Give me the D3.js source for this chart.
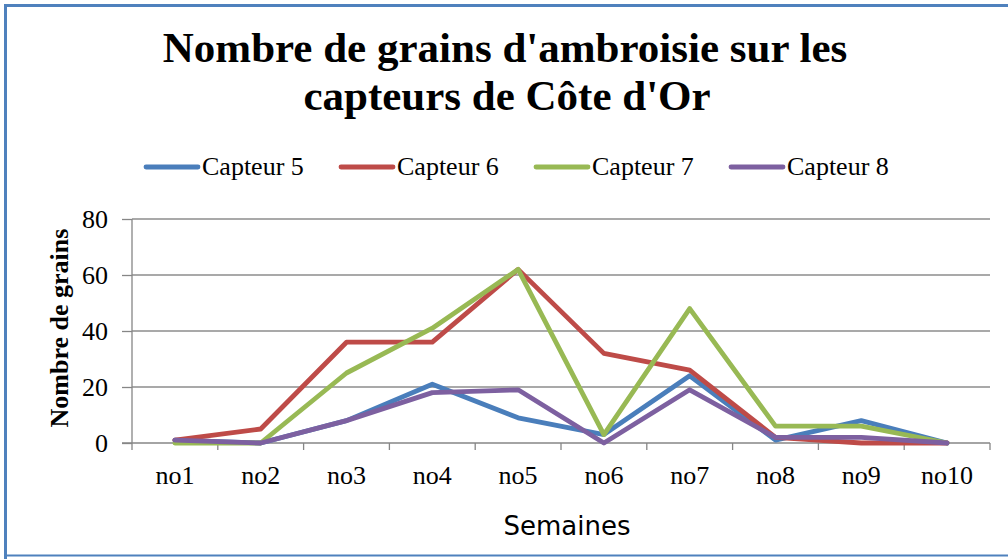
<!DOCTYPE html>
<html>
<head>
<meta charset="utf-8">
<script src="https://cdn.jsdelivr.net/npm/d3@7"></script>
<style>
  body { margin: 0; background: #fff; }
  svg { display: block; }
  .serif { font-family: "Liberation Serif", "Times New Roman", Times, serif; }
</style>
</head>
<body>
<svg width="1008" height="559"></svg>
<script>
// data
var weeks = ["no1", "no2", "no3", "no4", "no5", "no6", "no7", "no8", "no9", "no10"];
var capteur5 = [1, 0, 8, 21, 9, 3, 24, 1, 8, 0];
var capteur6 = [1, 5, 36, 36, 62, 32, 26, 2, 0, 0];
var capteur7 = [0, 0, 25, 41, 62, 3, 48, 6, 6, 0];
var capteur8 = [1, 0, 8, 18, 19, 0, 19, 2, 2, 0];
var seriesNames = ["Capteur 5", "Capteur 6", "Capteur 7", "Capteur 8"];
var yTicks = [0, 20, 40, 60, 80];

var colors = ["#4A7EBB", "#BE4B48", "#98B954", "#7D60A0"];
var series = [capteur5, capteur6, capteur7, capteur8];

var svg = d3.select("svg");

// frame (right edge is cut off in the original)
svg.append("path")
  .attr("d", "M5.5,560 L5.5,5.5 L1010,5.5")
  .attr("fill", "none")
  .attr("stroke", "#4F81BD")
  .attr("stroke-width", 3);
svg.append("line")
  .attr("x1", 5).attr("x2", 1008).attr("y1", 555.5).attr("y2", 555.5)
  .attr("stroke", "#4F81BD").attr("stroke-width", 2);

var plotL = 132, plotR = 990, plotT = 219, plotB = 443;

var x = d3.scaleBand().domain(weeks).range([plotL, plotR]);
var y = d3.scaleLinear().domain([0, 80]).range([plotB, plotT]);

// title
var title = svg.append("text")
  .attr("class", "serif")
  .attr("text-anchor", "middle")
  .attr("font-weight", "bold")
  .attr("font-size", 43)
  .attr("fill", "#000");
title.append("tspan").attr("x", 505).attr("y", 62).text("Nombre de grains d'ambroisie sur les");
title.append("tspan").attr("x", 507).attr("y", 110).text("capteurs de Côte d'Or");

// gridlines
svg.append("g").selectAll("line")
  .data(yTicks.slice(1))
  .join("line")
  .attr("x1", plotL).attr("x2", plotR)
  .attr("y1", d => y(d)).attr("y2", d => y(d))
  .attr("stroke", "#8c8c8c").attr("stroke-width", 1.3);

// y axis
var yAxis = svg.append("g")
  .attr("transform", "translate(" + plotL + ",0)")
  .call(d3.axisLeft(y).tickValues(yTicks).tickSize(10).tickPadding(14));
yAxis.attr("font-family", null).attr("font-size", null);
yAxis.select(".domain").attr("stroke", "#868686").attr("stroke-width", 1.3).attr("d", "M0," + plotT + "V" + plotB);
yAxis.selectAll(".tick line").attr("stroke", "#868686").attr("stroke-width", 1.3);
yAxis.selectAll("text")
  .attr("class", "serif").attr("font-size", 26).attr("fill", "#000")
  .attr("dy", "0.34em");

// x axis, ticks at band edges
var xAxis = svg.append("g")
  .attr("transform", "translate(0," + plotB + ")");
xAxis.append("line")
  .attr("x1", plotL - 10).attr("x2", plotR)
  .attr("stroke", "#868686").attr("stroke-width", 1.3);
xAxis.selectAll(".edge")
  .data(weeks.concat(["end"]))
  .join("line")
  .attr("class", "edge")
  .attr("x1", (d, i) => plotL + i * x.step())
  .attr("x2", (d, i) => plotL + i * x.step())
  .attr("y1", 0).attr("y2", 7)
  .attr("stroke", "#868686").attr("stroke-width", 1.3);
xAxis.selectAll("text")
  .data(weeks)
  .join("text")
  .attr("class", "serif")
  .attr("x", d => x(d) + x.bandwidth() / 2)
  .attr("y", 41)
  .attr("text-anchor", "middle")
  .attr("font-size", 26).attr("fill", "#000")
  .text(d => d);

// axis titles
svg.append("text")
  .attr("x", 567).attr("y", 535)
  .attr("text-anchor", "middle")
  .attr("font-family", "'DejaVu Sans', sans-serif")
  .attr("font-size", 26).attr("fill", "#000")
  .text("Semaines");

svg.append("text")
  .attr("class", "serif")
  .attr("transform", "translate(68,328) rotate(-90)")
  .attr("text-anchor", "middle")
  .attr("font-weight", "bold")
  .attr("font-size", 26).attr("fill", "#000")
  .text("Nombre de grains");

// lines
var line = d3.line()
  .x((d, i) => x(weeks[i]) + x.bandwidth() / 2)
  .y(d => y(d));

svg.append("g").selectAll("path")
  .data(series)
  .join("path")
  .attr("d", line)
  .attr("fill", "none")
  .attr("stroke", (d, i) => colors[i])
  .attr("stroke-width", 4.8)
  .attr("stroke-linejoin", "round")
  .attr("stroke-linecap", "round");

// legend
var legend = svg.append("g").selectAll("g")
  .data(seriesNames)
  .join("g")
  .attr("transform", (d, i) => "translate(" + (146 + i * 195) + ",167)");
legend.append("line")
  .attr("x1", 0).attr("x2", 52)
  .attr("stroke", (d, i) => colors[i])
  .attr("stroke-width", 4.8)
  .attr("stroke-linecap", "round");
legend.append("text")
  .attr("class", "serif")
  .attr("x", 56).attr("y", 8)
  .attr("font-size", 26).attr("fill", "#000")
  .text(d => d);
</script>
</body>
</html>
